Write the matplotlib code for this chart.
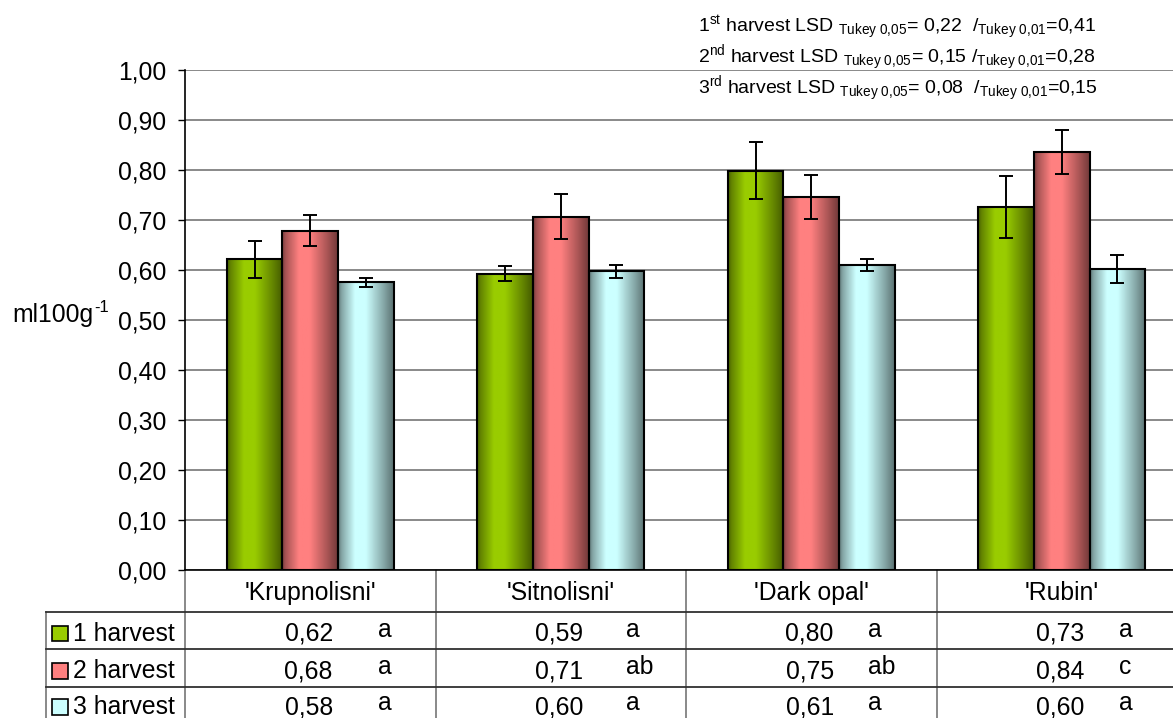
import numpy as np
import matplotlib
matplotlib.use("Agg")
import matplotlib.pyplot as plt
import matplotlib.transforms as mtransforms
from matplotlib.lines import Line2D
from matplotlib.patches import Rectangle

# ---- data -------------------------------------------------------------
cultivars = ["'Krupnolisni'", "'Sitnolisni'", "'Dark opal'", "'Rubin'"]
series_names = ["1 harvest", "2 harvest", "3 harvest"]
harvest1 = [0.622, 0.593, 0.799, 0.727]
harvest2 = [0.679, 0.707, 0.747, 0.837]
harvest3 = [0.576, 0.598, 0.610, 0.602]
err1 = [0.037, 0.015, 0.057, 0.062]
err2 = [0.030, 0.045, 0.044, 0.044]
err3 = [0.009, 0.013, 0.012, 0.028]
letters1 = ["a", "a", "a", "a"]
letters2 = ["a", "ab", "ab", "c"]
letters3 = ["a", "a", "a", "a"]
yticks = [0.0, 0.1, 0.2, 0.3, 0.4, 0.5, 0.6, 0.7, 0.8, 0.9, 1.0]

values = [harvest1, harvest2, harvest3]
errors = [err1, err2, err3]
letters = [letters1, letters2, letters3]
colors = ["#99CC00", "#FF8080", "#CCFFFF"]

# ---- style ------------------------------------------------------------
plt.rcParams["font.family"] = ["Liberation Sans", "DejaVu Sans"]
plt.rcParams["mathtext.fontset"] = "custom"
plt.rcParams["mathtext.rm"] = "Liberation Sans"
plt.rcParams["mathtext.it"] = "Liberation Sans:italic"
plt.rcParams["mathtext.bf"] = "Liberation Sans:bold"

W, H = 1173, 718
FS = 17.8
fig = plt.figure(figsize=(W / 100, H / 100), dpi=100)
fig.patch.set_facecolor("white")

# plot area runs slightly past the right edge of the canvas
ax_left, ax_right, ax_top, ax_bottom = 185, 1187, 70, 570
ax = fig.add_axes([ax_left / W, 1 - ax_bottom / H,
                   (ax_right - ax_left) / W, (ax_bottom - ax_top) / H])
ax.set_facecolor("none")

n = len(cultivars)
x = np.arange(n)
bw = 0.2225
offsets = [-bw, 0.0, bw]


def shade(rgb, m):
    """Horizontal cylinder-like shading profile for one bar."""
    t = np.linspace(0, 1, m)
    f = np.interp(t, [0, 0.06, 0.3, 0.5, 0.8, 1.0],
                  [0.48, 0.65, 1.0, 1.0, 0.68, 0.45])
    img = np.clip(np.outer(np.ones(2), f)[..., None] * np.array(rgb)[None, None, :], 0, 1)
    return img


for s in range(3):
    rgb = matplotlib.colors.to_rgb(colors[s])
    bars = ax.bar(x + offsets[s], values[s], width=bw, facecolor="none",
                  edgecolor="black", linewidth=1.5, zorder=4)
    for b in bars:
        x0, w, h = b.get_x(), b.get_width(), b.get_height()
        im = ax.imshow(shade(rgb, 64), extent=(x0, x0 + w, 0, h),
                       aspect="auto", zorder=3, interpolation="bilinear")
        im.set_clip_path(b)
    ax.errorbar(x + offsets[s], values[s], yerr=errors[s], fmt="none",
                ecolor="black", elinewidth=1.4, capsize=5, capthick=1.4,
                zorder=5)

ax.set_xlim(-0.5, n - 0.5)
ax.set_ylim(0, 1.0)
ax.set_yticks(yticks)
ax.set_yticklabels([f"{v:.2f}".replace(".", ",") for v in yticks], fontsize=FS)
ax.set_xticks([])
ax.tick_params(axis="y", direction="out", length=5, width=1, pad=8.5,
               colors="black")
ax.yaxis.grid(True, color="#808080", linewidth=1.3, zorder=1)
ax.set_axisbelow(True)
for side in ["top", "right"]:
    ax.spines[side].set_visible(False)
for side in ["left", "bottom"]:
    ax.spines[side].set_color("black")
    ax.spines[side].set_linewidth(1.2)
    ax.spines[side].set_zorder(6)

# y-axis unit label with a raised "-1"
unit = fig.text(12 / W, 1 - 322 / H, "ml100g", fontsize=FS,
                ha="left", va="baseline")
fig.canvas.draw()
ub = unit.get_window_extent()
fig.text((ub.x1 + 1) / W, (H - 322 + 10) / H, "-1", fontsize=12,
         ha="left", va="baseline")

# LSD notes above the plot
lsd_lines = [
    r"$1^{\mathrm{st}}$ harvest LSD ${}_{\mathrm{Tukey\ 0{,}05}}$= 0,22  /${}_{\mathrm{Tukey\ 0{,}01}}$=0,41",
    r"$2^{\mathrm{nd}}$ harvest LSD ${}_{\mathrm{Tukey\ 0{,}05}}$= 0,15 /${}_{\mathrm{Tukey\ 0{,}01}}$=0,28",
    r"$3^{\mathrm{rd}}$ harvest LSD ${}_{\mathrm{Tukey\ 0{,}05}}$= 0,08  /${}_{\mathrm{Tukey\ 0{,}01}}$=0,15",
]
for i, txt in enumerate(lsd_lines):
    fig.text(698 / W, 1 - (32 + 31 * i) / H, txt, fontsize=14,
             ha="left", va="baseline")

# ---- data table under the plot ---------------------------------------
px = mtransforms.Affine2D().scale(1, -1).translate(0, H)   # pixel, y from top
tab = mtransforms.blended_transform_factory(ax.transData, px)

row_edges = [570, 612, 649, 687, 725]
line_dark = "#303030"
line_grey = "#808080"

for k in range(n + 1):
    ax.add_line(Line2D([k - 0.5, k - 0.5], [row_edges[0], row_edges[-1]],
                       transform=tab, color=line_grey, lw=1.3, clip_on=False))
ax.add_line(Line2D([46, 46], [row_edges[1], row_edges[-1]], transform=px,
                   color=line_grey, lw=1.3, clip_on=False))
for yy in row_edges[1:4]:
    ax.add_line(Line2D([46, W + 20], [yy, yy], transform=px,
                       color=line_dark, lw=1.3, clip_on=False))

for k, name in enumerate(cultivars):
    ax.text(k, 600, name, transform=tab, fontsize=FS, ha="center",
            va="baseline", clip_on=False)

letter_offsets = [0.77, 0.762, 0.727, 0.727]
row_baselines = [641, 678.5, 714.5]
for s in range(3):
    base = row_baselines[s]
    ax.add_patch(Rectangle((52, base - 15.5), 15.5, 15.5, transform=px,
                           facecolor=colors[s], edgecolor="black", lw=1.2,
                           clip_on=False))
    ax.text(73, base, series_names[s], transform=px, fontsize=FS,
            ha="left", va="baseline", clip_on=False)
    for k in range(n):
        ax.text(k - 0.5 + 0.59, base, f"{values[s][k]:.2f}".replace(".", ","),
                transform=tab, fontsize=FS, ha="right", va="baseline",
                clip_on=False)
        ax.text(k - 0.5 + letter_offsets[k], base - 4, letters[s][k],
                transform=tab, fontsize=FS, ha="left", va="baseline",
                clip_on=False)

fig.savefig("out.png", dpi=100, facecolor="white")
